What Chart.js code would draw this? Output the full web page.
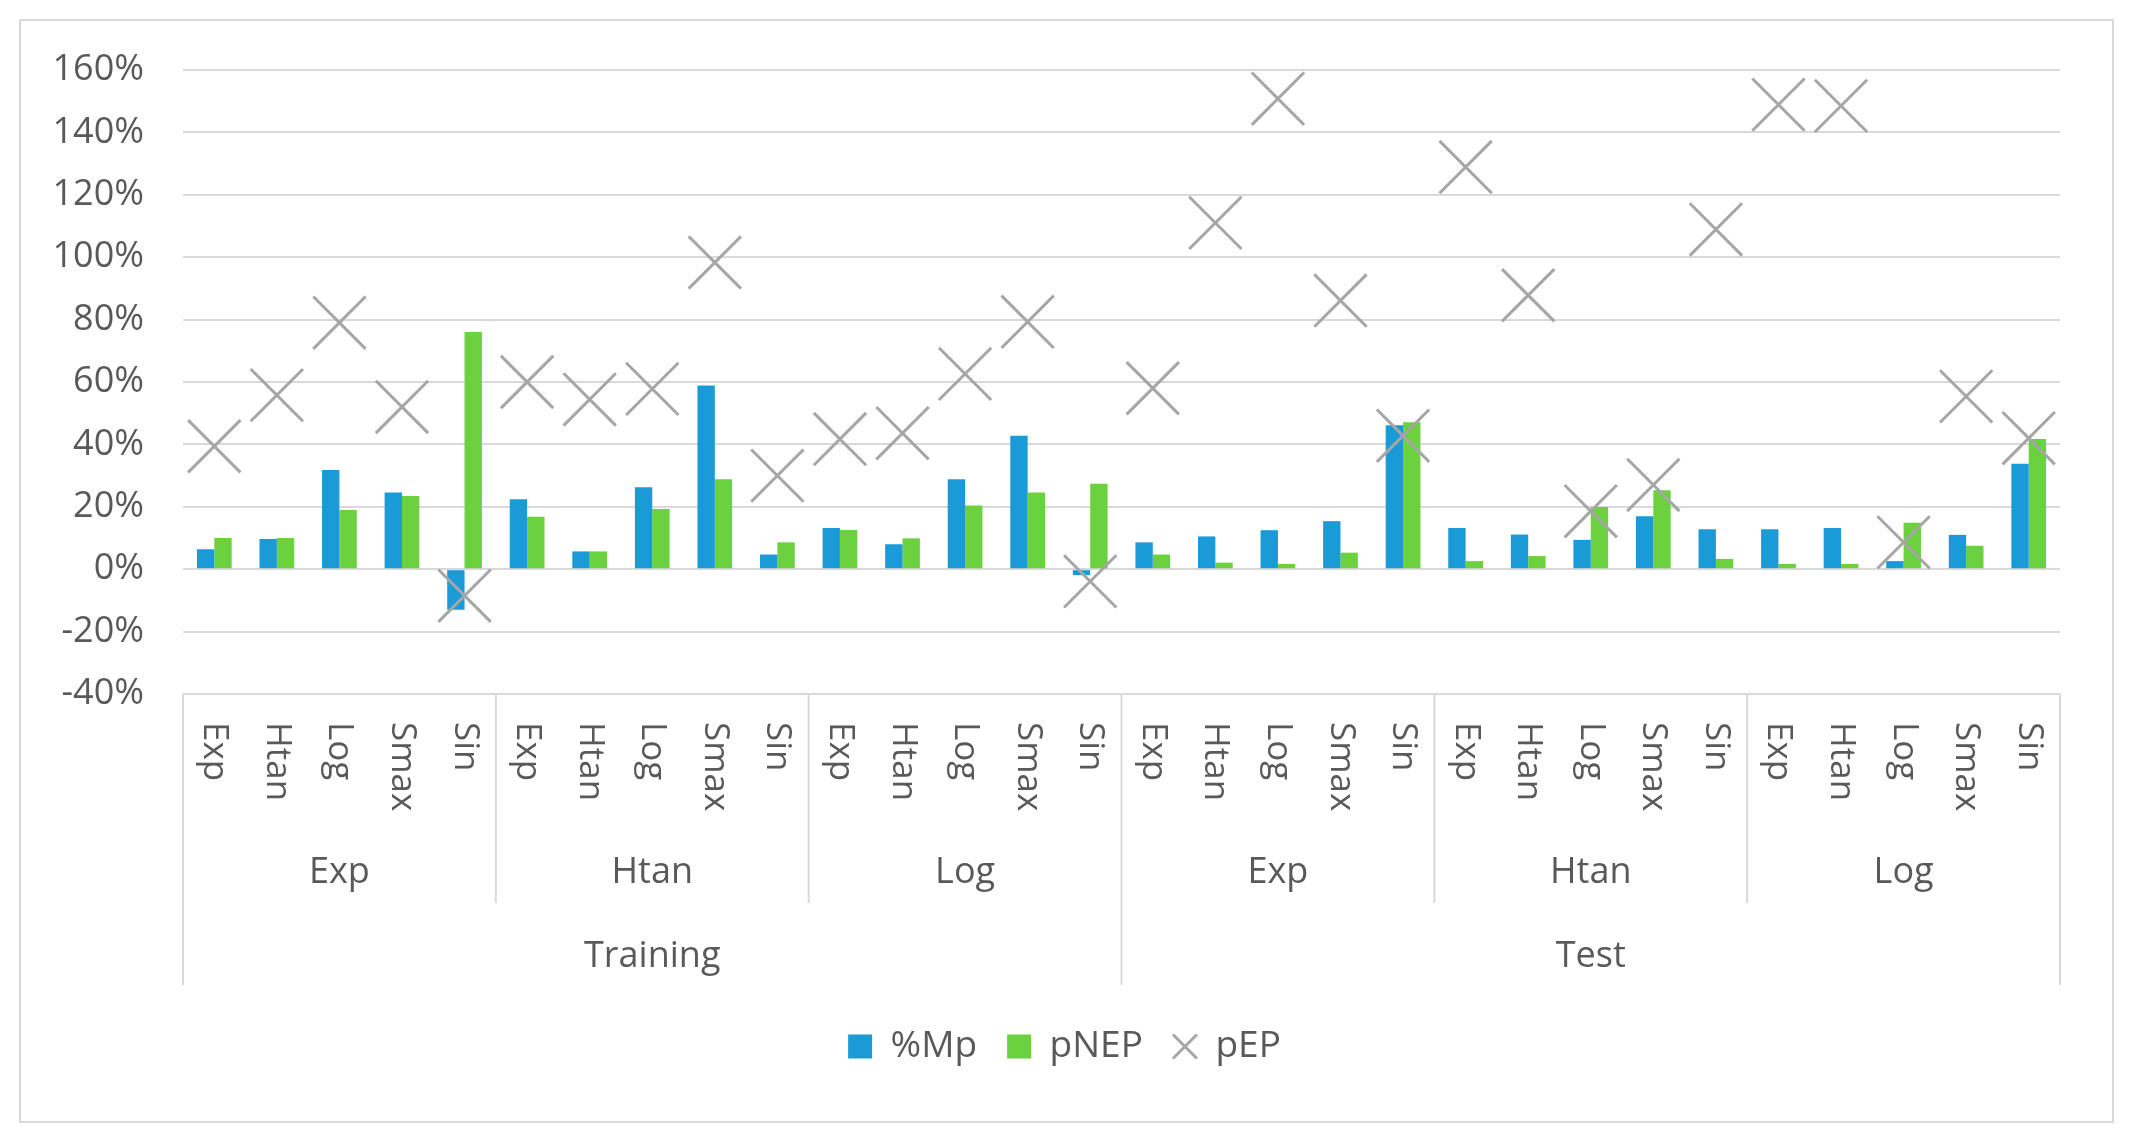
<!DOCTYPE html>
<html>
<head>
<meta charset="utf-8">
<script src="https://cdn.jsdelivr.net/npm/chart.js@4.4.0/dist/chart.umd.min.js"></script>
<style>
  html, body { margin: 0; padding: 0; background: #fff; }
  #wrap { position: absolute; left: 0; top: 0; width: 2129px; height: 1138px; }
  #frame { position: absolute; left: 19px; top: 19px; width: 2091px; height: 1100px; border: 2px solid #d9d9d9; pointer-events: none; }
</style>
</head>
<body>
<div id="wrap">
  <canvas id="chart1" width="2129" height="1138"></canvas>
  <div id="frame"></div>
</div>
<script>
  // category levels (inner -> outer)
  const functions = ["Exp", "Htan", "Log", "Smax", "Sin"];
  const groups = ["Exp", "Htan", "Log", "Exp", "Htan", "Log"];
  const phases = ["Training", "Test"];

  // values in %
  const mpData = [
    6.4, 9.7, 31.8, 24.6, -13,
    22.4, 5.7, 26.3, 58.9, 4.7,
    13.2, 8.0, 28.8, 42.8, -1.9,
    8.6, 10.5, 12.5, 15.4, 46.1,
    13.2, 11.1, 9.4, 17.0, 12.8,
    12.8, 13.2, 2.6, 11.0, 33.8
  ];
  const pnepData = [
    10, 10, 19, 23.5, 76,
    16.8, 5.7, 19.3, 28.8, 8.6,
    12.6, 9.9, 20.4, 24.6, 27.4,
    4.7, 2.1, 1.7, 5.3, 47.1,
    2.6, 4.2, 19.9, 25.3, 3.3,
    1.7, 1.7, 14.9, 7.5, 41.7
  ];
  const pepData = [
    39.4, 55.8, 79, 52, -8.5,
    60, 54.4, 57.8, 98.3, 30,
    41.7, 43.6, 62.6, 79.3, -3.9,
    58, 111, 150.8, 86.1, 42.8,
    128.9, 87.8, 18.6, 27, 108.9,
    148.9, 148.5, 8.6, 55.4, 42
  ];

  const labels = [];
  groups.forEach(() => functions.forEach((f) => labels.push(f)));

  const textColor = "#595959";
  const lineColor = "#d9d9d9";
  const fontFamily = "'Open Sans', sans-serif";

  // draws the three-level category axis under the plot
  const multiLevelAxis = {
    id: "multiLevelAxis",
    afterDraw(chart) {
      const ctx = chart.ctx;
      const xs = chart.scales.x;
      const top = chart.chartArea.bottom;
      const n = labels.length;
      const edge = (i) => {
        if (i === 0) return xs.left;
        if (i === n) return xs.right;
        return (xs.getPixelForValue(i - 1) + xs.getPixelForValue(i)) / 2;
      };
      ctx.save();
      ctx.strokeStyle = lineColor;
      ctx.lineWidth = 2;
      for (let i = 0; i <= n; i += functions.length) {
        const outer = i % (n / phases.length) === 0;
        ctx.beginPath();
        ctx.moveTo(edge(i), top);
        ctx.lineTo(edge(i), outer ? 985 : 903);
        ctx.stroke();
      }
      ctx.fillStyle = textColor;
      ctx.font = "35px " + fontFamily;
      ctx.textAlign = "left";
      ctx.textBaseline = "middle";
      labels.forEach((lab, i) => {
        ctx.save();
        ctx.translate(xs.getPixelForValue(i), top + 28);
        ctx.rotate(Math.PI / 2);
        ctx.fillText(lab, 0, 0);
        ctx.restore();
      });
      ctx.textAlign = "center";
      ctx.font = "36px " + fontFamily;
      groups.forEach((g, k) => {
        const cx = (edge(k * 5) + edge(k * 5 + 5)) / 2;
        ctx.fillText(g, cx, 873);
      });
      const per = n / phases.length;
      phases.forEach((p, k) => {
        const cx = (edge(k * per) + edge(k * per + per)) / 2;
        ctx.fillText(p, cx, 957);
      });
      ctx.restore();
    }
  };

  const ctx = document.getElementById("chart1").getContext("2d");
  const chart1 = new Chart(ctx, {
    type: "bar",
    data: {
      labels: labels,
      datasets: [
        {
          label: "%Mp",
          data: mpData,
          backgroundColor: "#1a9bd7",
          pointStyle: "rect",
          order: 1,
        },
        {
          label: "pNEP",
          data: pnepData,
          backgroundColor: "#6bd13f",
          pointStyle: "rect",
          order: 1,
        },
        {
          type: "line",
          label: "pEP",
          data: pepData,
          showLine: false,
          pointStyle: "crossRot",
          pointRadius: 37,
          pointHoverRadius: 37,
          borderColor: "#a6a6a6",
          backgroundColor: "#a6a6a6",
          borderWidth: 3,
          pointBorderWidth: 3,
          order: 0,
        },
      ],
    },
    options: {
      responsive: false,
      animation: false,
      events: [],
      layout: { padding: { top: 70, right: 0, bottom: 63, left: 0 } },
      datasets: {
        bar: { barPercentage: 1, categoryPercentage: 0.555 },
      },
      scales: {
        x: {
          grid: { display: false },
          border: { display: false },
          ticks: { display: false },
          afterFit: (scale) => { scale.height = 304; },
        },
        y: {
          min: -40,
          max: 160,
          grid: { color: lineColor, lineWidth: 2, drawTicks: false },
          border: { display: false },
          ticks: {
            stepSize: 20,
            padding: 39,
            color: textColor,
            font: { family: fontFamily, size: 36 },
            callback: (v) => v + "%",
          },
          afterFit: (scale) => { scale.width = 183; },
        },
        // empty right-hand spacer so the legend centres on the full chart
        yRight: {
          position: "right",
          grid: { display: false },
          border: { display: false },
          ticks: { display: false },
          afterFit: (scale) => { scale.width = 69; },
        },
      },
      plugins: {
        legend: {
          position: "bottom",
          labels: {
            usePointStyle: true,
            boxWidth: 24,
            boxHeight: 24,
            padding: 30,
            color: textColor,
            font: { family: fontFamily, size: 37 },
            sort: (a, b) => a.datasetIndex - b.datasetIndex,
          },
        },
        tooltip: { enabled: false },
      },
    },
    plugins: [multiLevelAxis],
  });
</script>
</body>
</html>
